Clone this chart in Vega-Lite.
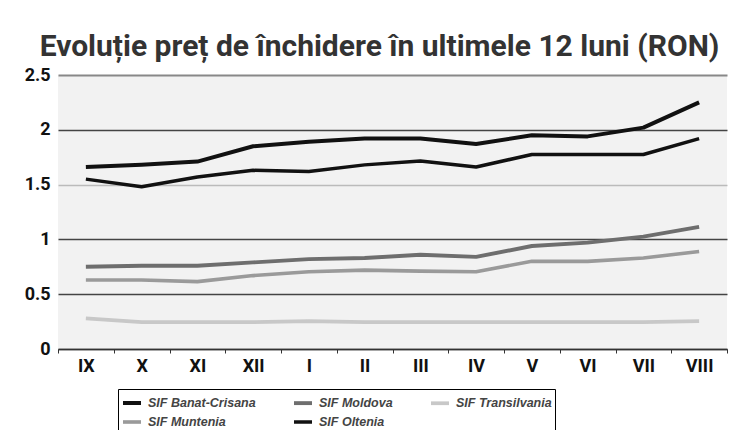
{
  "$schema": "https://vega.github.io/schema/vega-lite/v6.json",
  "autosize": {"type": "none"},
  "width": 669,
  "height": 274,
  "padding": {"left": 58, "top": 75, "right": 9, "bottom": 81},
  "background": "#ffffff",
  "title": {
    "text": "Evoluție preț de închidere în ultimele 12 luni (RON)",
    "font": "Roboto",
    "fontSize": 30,
    "fontWeight": "bold",
    "color": "#333333",
    "anchor": "middle",
    "dx": -13,
    "offset": 4
  },
  "config": {
    "view": {"fill": "#f2f2f2", "stroke": null},
    "axis": {
      "labelFont": "Roboto",
      "labelFontWeight": "bold",
      "labelColor": "#111111",
      "title": null
    }
  },
  "data": {
    "values": [
      {"month": "IX", "series": "SIF Banat-Crisana", "value": 1.66},
      {"month": "X", "series": "SIF Banat-Crisana", "value": 1.68},
      {"month": "XI", "series": "SIF Banat-Crisana", "value": 1.71},
      {"month": "XII", "series": "SIF Banat-Crisana", "value": 1.85},
      {"month": "I", "series": "SIF Banat-Crisana", "value": 1.89},
      {"month": "II", "series": "SIF Banat-Crisana", "value": 1.92},
      {"month": "III", "series": "SIF Banat-Crisana", "value": 1.92},
      {"month": "IV", "series": "SIF Banat-Crisana", "value": 1.87},
      {"month": "V", "series": "SIF Banat-Crisana", "value": 1.95},
      {"month": "VI", "series": "SIF Banat-Crisana", "value": 1.94},
      {"month": "VII", "series": "SIF Banat-Crisana", "value": 2.02},
      {"month": "VIII", "series": "SIF Banat-Crisana", "value": 2.25},
      {"month": "IX", "series": "SIF Moldova", "value": 0.75},
      {"month": "X", "series": "SIF Moldova", "value": 0.76},
      {"month": "XI", "series": "SIF Moldova", "value": 0.76},
      {"month": "XII", "series": "SIF Moldova", "value": 0.79},
      {"month": "I", "series": "SIF Moldova", "value": 0.82},
      {"month": "II", "series": "SIF Moldova", "value": 0.83},
      {"month": "III", "series": "SIF Moldova", "value": 0.86},
      {"month": "IV", "series": "SIF Moldova", "value": 0.84},
      {"month": "V", "series": "SIF Moldova", "value": 0.94},
      {"month": "VI", "series": "SIF Moldova", "value": 0.97},
      {"month": "VII", "series": "SIF Moldova", "value": 1.025},
      {"month": "VIII", "series": "SIF Moldova", "value": 1.115},
      {"month": "IX", "series": "SIF Transilvania", "value": 0.28},
      {"month": "X", "series": "SIF Transilvania", "value": 0.245},
      {"month": "XI", "series": "SIF Transilvania", "value": 0.245},
      {"month": "XII", "series": "SIF Transilvania", "value": 0.245},
      {"month": "I", "series": "SIF Transilvania", "value": 0.255},
      {"month": "II", "series": "SIF Transilvania", "value": 0.245},
      {"month": "III", "series": "SIF Transilvania", "value": 0.245},
      {"month": "IV", "series": "SIF Transilvania", "value": 0.245},
      {"month": "V", "series": "SIF Transilvania", "value": 0.245},
      {"month": "VI", "series": "SIF Transilvania", "value": 0.245},
      {"month": "VII", "series": "SIF Transilvania", "value": 0.245},
      {"month": "VIII", "series": "SIF Transilvania", "value": 0.255},
      {"month": "IX", "series": "SIF Muntenia", "value": 0.63},
      {"month": "X", "series": "SIF Muntenia", "value": 0.63},
      {"month": "XI", "series": "SIF Muntenia", "value": 0.615},
      {"month": "XII", "series": "SIF Muntenia", "value": 0.67},
      {"month": "I", "series": "SIF Muntenia", "value": 0.705},
      {"month": "II", "series": "SIF Muntenia", "value": 0.72},
      {"month": "III", "series": "SIF Muntenia", "value": 0.71},
      {"month": "IV", "series": "SIF Muntenia", "value": 0.705},
      {"month": "V", "series": "SIF Muntenia", "value": 0.8},
      {"month": "VI", "series": "SIF Muntenia", "value": 0.8},
      {"month": "VII", "series": "SIF Muntenia", "value": 0.83},
      {"month": "VIII", "series": "SIF Muntenia", "value": 0.89},
      {"month": "IX", "series": "SIF Oltenia", "value": 1.55},
      {"month": "X", "series": "SIF Oltenia", "value": 1.48},
      {"month": "XI", "series": "SIF Oltenia", "value": 1.57},
      {"month": "XII", "series": "SIF Oltenia", "value": 1.63},
      {"month": "I", "series": "SIF Oltenia", "value": 1.62},
      {"month": "II", "series": "SIF Oltenia", "value": 1.68},
      {"month": "III", "series": "SIF Oltenia", "value": 1.715},
      {"month": "IV", "series": "SIF Oltenia", "value": 1.66},
      {"month": "V", "series": "SIF Oltenia", "value": 1.775},
      {"month": "VI", "series": "SIF Oltenia", "value": 1.775},
      {"month": "VII", "series": "SIF Oltenia", "value": 1.775},
      {"month": "VIII", "series": "SIF Oltenia", "value": 1.92}
    ]
  },
  "mark": {"type": "line", "strokeCap": "butt", "strokeJoin": "round"},
  "encoding": {
    "x": {
      "field": "month",
      "type": "ordinal",
      "sort": ["IX", "X", "XI", "XII", "I", "II", "III", "IV", "V", "VI", "VII", "VIII"],
      "bandPosition": 0.5,
      "scale": {"type": "band", "paddingInner": 0, "paddingOuter": 0},
      "axis": {
        "labelAngle": 0,
        "labelFontSize": 18,
        "labelPadding": 4,
        "tickBand": "extent",
        "ticks": true,
        "tickSize": 4,
        "tickColor": "#333333",
        "tickWidth": 1,
        "domain": true,
        "domainColor": "#333333",
        "domainWidth": 1.5,
        "grid": false
      }
    },
    "y": {
      "field": "value",
      "type": "quantitative",
      "scale": {"domain": [0, 2.5], "nice": false},
      "axis": {
        "values": [0, 0.5, 1, 1.5, 2, 2.5],
        "format": "~g",
        "labelFontSize": 18,
        "labelPadding": 8,
        "ticks": false,
        "domain": false,
        "grid": true,
        "gridColor": {"condition": [{"test": "datum.value == 1.5", "value": "#bbbbbb"}, {"test": "datum.value == 2.5", "value": "#888888"}], "value": "#444444"},
        "gridWidth": {"condition": {"test": "datum.value == 2.5", "value": 2}, "value": 1.3}
      }
    },
    "color": {
      "field": "series",
      "type": "nominal",
      "scale": {
        "domain": ["SIF Banat-Crisana", "SIF Moldova", "SIF Transilvania", "SIF Muntenia", "SIF Oltenia"],
        "range": ["#111111", "#6e6e6e", "#c8c8c8", "#9a9a9a", "#111111"]
      },
      "legend": {
        "orient": "none",
        "legendX": 60,
        "legendY": 314,
        "title": null,
        "columns": 3,
        "gridAlign": "each",
        "direction": "horizontal",
        "padding": 3,
        "rowPadding": 0,
        "columnPadding": 30,
        "strokeColor": "#000000",
        "fillColor": "#ffffff",
        "symbolType": "stroke",
        "symbolSize": 324,
        "labelFont": "Liberation Sans",
        "labelFontStyle": "italic",
        "labelFontWeight": "bold",
        "labelFontSize": 12.5,
        "labelColor": "#444444",
        "labelOffset": 5
      }
    },
    "strokeWidth": {
      "field": "series",
      "type": "nominal",
      "scale": {
        "domain": ["SIF Banat-Crisana", "SIF Moldova", "SIF Transilvania", "SIF Muntenia", "SIF Oltenia"],
        "range": [4, 3.5, 3.5, 3.5, 1.6]
      }
    }
  }
}
